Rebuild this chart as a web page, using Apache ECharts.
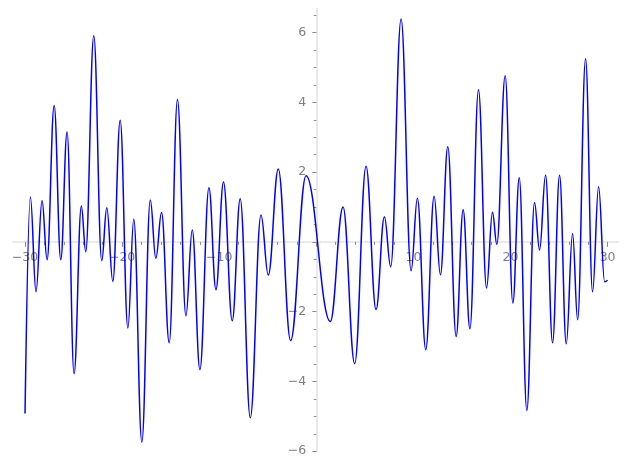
<!DOCTYPE html>
<html>
<head>
<meta charset="utf-8">
<script src="https://cdn.jsdelivr.net/npm/echarts@6/dist/echarts.min.js"></script>
<style>html,body{margin:0;padding:0;background:#fff;}#c{width:627px;height:469px;}</style>
</head>
<body>
<div id="c"></div>
<script>
// Curve samples (local peaks / troughs plus end points)
const curveX = [-30.0,-29.45,-28.87,-28.25,-27.73,-27.0,-26.32,-25.67,-24.95,-24.2,-23.75,-22.92,-22.1,-21.58,-20.96,-20.2,-19.41,-18.8,-17.97,-17.1,-16.53,-15.94,-15.15,-14.3,-13.43,-12.78,-11.99,-11.06,-10.34,-9.56,-8.66,-7.84,-6.8,-5.7,-4.95,-3.92,-2.65,-1.06,1.44,2.75,3.95,5.12,6.15,7.01,7.66,8.73,9.76,10.41,11.27,12.13,12.78,13.54,14.4,15.12,15.82,16.7,17.53,18.14,18.59,19.45,20.24,20.9,21.68,22.47,22.99,23.61,24.33,25.05,25.74,26.39,26.91,27.73,28.45,29.07,29.69,30.0];
const curveY = [-4.92,1.29,-1.43,1.19,-0.51,3.91,-0.51,3.15,-3.78,1.03,-0.28,5.91,-0.54,0.98,-1.13,3.49,-2.47,0.65,-5.74,1.2,-0.47,0.84,-2.89,4.08,-2.12,0.34,-3.66,1.55,-1.37,1.72,-2.26,1.24,-5.04,0.77,-0.95,2.09,-2.83,1.9,-2.28,1.0,-3.49,2.17,-1.94,0.72,-0.71,6.39,-0.83,1.25,-3.09,1.31,-0.94,2.73,-2.71,0.92,-2.49,4.36,-1.32,0.85,-0.07,4.76,-1.75,1.84,-4.83,1.13,-0.23,1.91,-2.89,1.91,-2.92,0.24,-2.23,5.25,-1.43,1.58,-1.14,-1.1];
const xTickLabels = [-30,-20,-10,10,20,30];
const yTickLabels = [-6,-4,-2,2,4,6];

const data = curveX.map((x, i) => [x, curveY[i]]);
const fmt = v => String(v).replace('-', '\u2212');
const labelStyle = {color:'#808080', fontFamily:'DejaVu Sans', fontSize:12.5};
const tickColor = '#8c8c8c';
const axisColor = '#e3e3e3';
const hiddenAxis = (g, extra) => Object.assign({gridIndex:g, type:'value', min:0, max:10, show:false}, extra || {});

const chart = echarts.init(document.getElementById('c'), null, {renderer:'canvas'});
chart.setOption({
  animation:false,
  backgroundColor:'#ffffff',
  grid:[
    {left:12.9, width:605.4, top:8.2, height:443, containLabel:false},
    {left:25.0, width:582.6, top:100, height:141.9, containLabel:false},
    {left:316.3, width:100, top:32.6, height:418.6, containLabel:false},
    {left:316.3, width:100, top:15.2, height:436, containLabel:false}
  ],
  xAxis:[
    {gridIndex:0, type:'value', min:-31.25, max:31.1,
     axisLine:{show:true, onZero:true, lineStyle:{color:axisColor, width:1.5}},
     axisTick:{show:false}, axisLabel:{show:false}, splitLine:{show:false}},
    {gridIndex:1, type:'value', min:-30, max:30, interval:10, position:'bottom',
     axisLine:{show:false, onZero:false},
     axisTick:{show:true, length:5, lineStyle:{color:tickColor}},
     minorTick:{show:true, splitNumber:5, length:3, lineStyle:{color:tickColor}},
     axisLabel:Object.assign({show:true, margin:9, showMinLabel:true, showMaxLabel:true,
        formatter:v => xTickLabels.includes(v) ? fmt(v) : ''}, labelStyle),
     splitLine:{show:false}},
    hiddenAxis(2),
    hiddenAxis(3)
  ],
  yAxis:[
    {gridIndex:0, type:'value', min:-6, max:6.7,
     axisLine:{show:true, onZero:true, lineStyle:{color:axisColor, width:1.5}},
     axisTick:{show:false}, axisLabel:{show:false}, splitLine:{show:false}},
    hiddenAxis(1),
    {gridIndex:2, type:'value', min:-6, max:6, interval:2, position:'left',
     axisLine:{show:false, onZero:false},
     axisTick:{show:true, length:4, lineStyle:{color:tickColor}},
     axisLabel:Object.assign({show:true, margin:10, showMinLabel:true, showMaxLabel:true,
        formatter:v => yTickLabels.includes(v) ? fmt(v) : ''}, labelStyle),
     splitLine:{show:false}},
    {gridIndex:3, type:'value', min:-6, max:6.5, interval:0.5, position:'left',
     axisLine:{show:false, onZero:false},
     axisTick:{show:true, length:2.5, lineStyle:{color:tickColor}},
     axisLabel:{show:false}, splitLine:{show:false}}
  ],
  series:[{
    type:'line', xAxisIndex:0, yAxisIndex:0, data:data,
    showSymbol:false, smooth:0.4, smoothMonotone:'x',
    lineStyle:{color:'#0000ff', width:1.5}, z:5
  }]
});
</script>
</body>
</html>
